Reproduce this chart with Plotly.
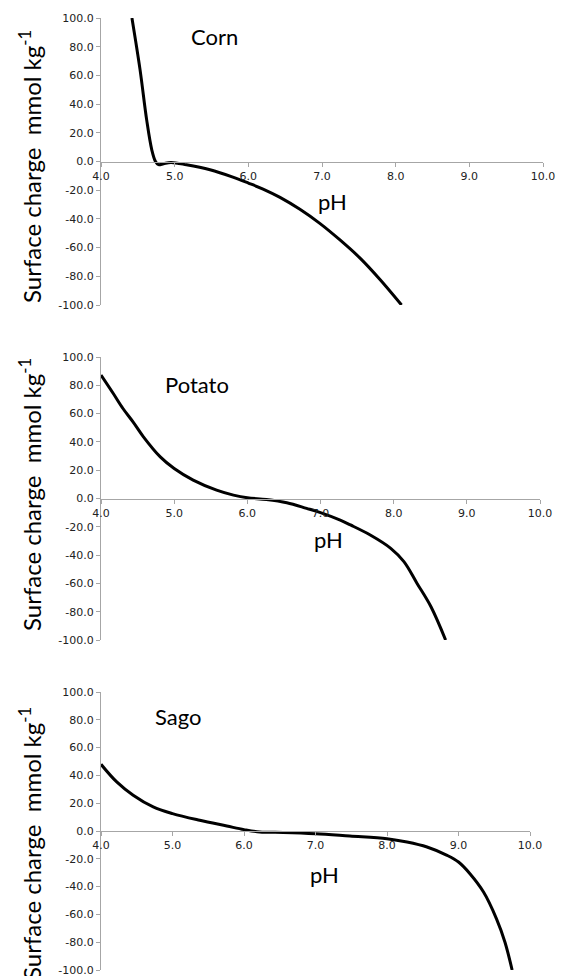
import plotly.graph_objects as go

W, H = 563, 976

# ---- data ----
corn_ph = [4.42, 4.53, 4.62, 4.69, 4.74, 4.78, 4.85, 4.95, 5.16, 5.48, 5.79, 6.0, 6.2, 6.43, 6.7, 6.97, 7.24, 7.52, 7.79, 8.08]
corn_q = [100, 64, 29, 8, 0, -2.2, -1.5, -0.7, -2.3, -5.8, -10.9, -15, -19.2, -25.0, -33.3, -43.1, -54.5, -67.5, -82.4, -100]

potato_ph = [4.0, 4.17, 4.3, 4.44, 4.58, 4.81, 5.0, 5.26, 5.58, 5.81, 6.0, 6.26, 6.54, 6.81, 7.0, 7.27, 7.41, 7.68, 7.96, 8.14, 8.32, 8.51, 8.71]
potato_q = [87.2, 74, 63.6, 54, 43.6, 29.4, 21.2, 13, 5.9, 2.4, 0.5, -0.7, -3, -7, -10, -15.3, -18.7, -25.8, -35.2, -44.6, -60, -76.5, -100]

sago_ph = [4.0, 4.22, 4.45, 4.73, 5.0, 5.38, 5.76, 6.0, 6.22, 6.55, 7.0, 7.48, 8.0, 8.28, 8.56, 8.84, 9.0, 9.16, 9.35, 9.53, 9.65, 9.75]
sago_q = [48, 35.3, 25.7, 17.3, 12.5, 7.7, 3.6, 1, -0.7, -1, -1.9, -3.6, -5.5, -7.9, -11.5, -17.5, -22.3, -30.7, -43.9, -63, -80, -100]

names = ["Corn", "Potato", "Sago"]
x_ticks = [4, 5, 6, 7, 8, 9, 10]
y_ticks = [100, 80, 60, 40, 20, 0, -20, -40, -60, -80, -100]
y_title = "Surface charge  mmol kg<sup>-1</sup>"

series = [(corn_ph, corn_q), (potato_ph, potato_q), (sago_ph, sago_q)]

# ---- layout geometry (pixels) ----
panels = [
    dict(x0=101, x1=543, y0=18, y1=305, name_xy=(214, 37), ph_xy=(332, 201), ttl_y=167),
    dict(x0=101, x1=540, y0=357, y1=640, name_xy=(197, 384), ph_xy=(328, 539), ttl_y=495),
    dict(x0=101, x1=530, y0=692, y1=970, name_xy=(178, 716), ph_xy=(324, 874), ttl_y=844),
]

def px(x):
    return x / W

def py(y):
    return 1 - y / H

fig = go.Figure()
axis_col = "#a6a6a6"
tick_font = dict(family="DejaVu Sans", size=11, color="#222222")
label_font = dict(family="Lato", size=22, color="#000000")

layout = dict(
    template="none",
    width=W, height=H,
    margin=dict(l=0, r=0, t=0, b=0, pad=0, autoexpand=False),
    paper_bgcolor="white", plot_bgcolor="white",
    showlegend=False,
    annotations=[],
)

for i, ((xs, ys), p, nm) in enumerate(zip(series, panels, names)):
    sfx = "" if i == 0 else str(i + 1)
    fig.add_trace(go.Scatter(
        x=xs, y=ys, mode="lines",
        line=dict(color="black", width=3, shape="spline", smoothing=1.0),
        xaxis="x" + sfx, yaxis="y" + sfx, cliponaxis=True, hoverinfo="skip",
    ))
    ydom = [py(p["y1"]), py(p["y0"])]
    xdom = [px(p["x0"]), px(p["x1"])]
    layout["xaxis" + sfx] = dict(
        domain=xdom, range=[4, 10], anchor="free", position=(ydom[0] + ydom[1]) / 2,
        automargin=False, ticklabeloverflow="allow",
        showline=True, linecolor=axis_col, linewidth=1,
        ticks="outside", ticklen=4, tickcolor=axis_col, tickwidth=1,
        tickvals=x_ticks, ticktext=[f"{v:.1f}" for v in x_ticks],
        tickfont=tick_font, showgrid=False, zeroline=False, fixedrange=True,
    )
    layout["yaxis" + sfx] = dict(
        domain=ydom, range=[-100, 100], anchor="x" + sfx,
        automargin=False, ticklabeloverflow="allow",
        showline=True, linecolor=axis_col, linewidth=1,
        ticks="outside", ticklen=4, tickcolor=axis_col, tickwidth=1,
        tickvals=y_ticks, ticktext=[f"{v:.1f}" for v in y_ticks],
        tickfont=tick_font, showgrid=False, zeroline=False, fixedrange=True,
    )
    layout["annotations"].append(dict(
        text=nm, x=px(p["name_xy"][0]), y=py(p["name_xy"][1]), xref="paper", yref="paper",
        showarrow=False, font=label_font, xanchor="center", yanchor="middle"))
    layout["annotations"].append(dict(
        text="pH", x=px(p["ph_xy"][0]), y=py(p["ph_xy"][1]), xref="paper", yref="paper",
        showarrow=False, font=label_font, xanchor="center", yanchor="middle"))
    layout["annotations"].append(dict(
        text=y_title, x=px(30), y=py(p["ttl_y"]), xref="paper", yref="paper",
        showarrow=False, font=dict(family="Lato", size=24, color="#000000"),
        textangle=-90, xanchor="center", yanchor="middle"))

fig.update_layout(**layout)
fig.write_html(
    "out.html",
    config={"displayModeBar": False},
    post_script="document.body.style.margin='0';document.body.style.overflow='hidden';",
)
